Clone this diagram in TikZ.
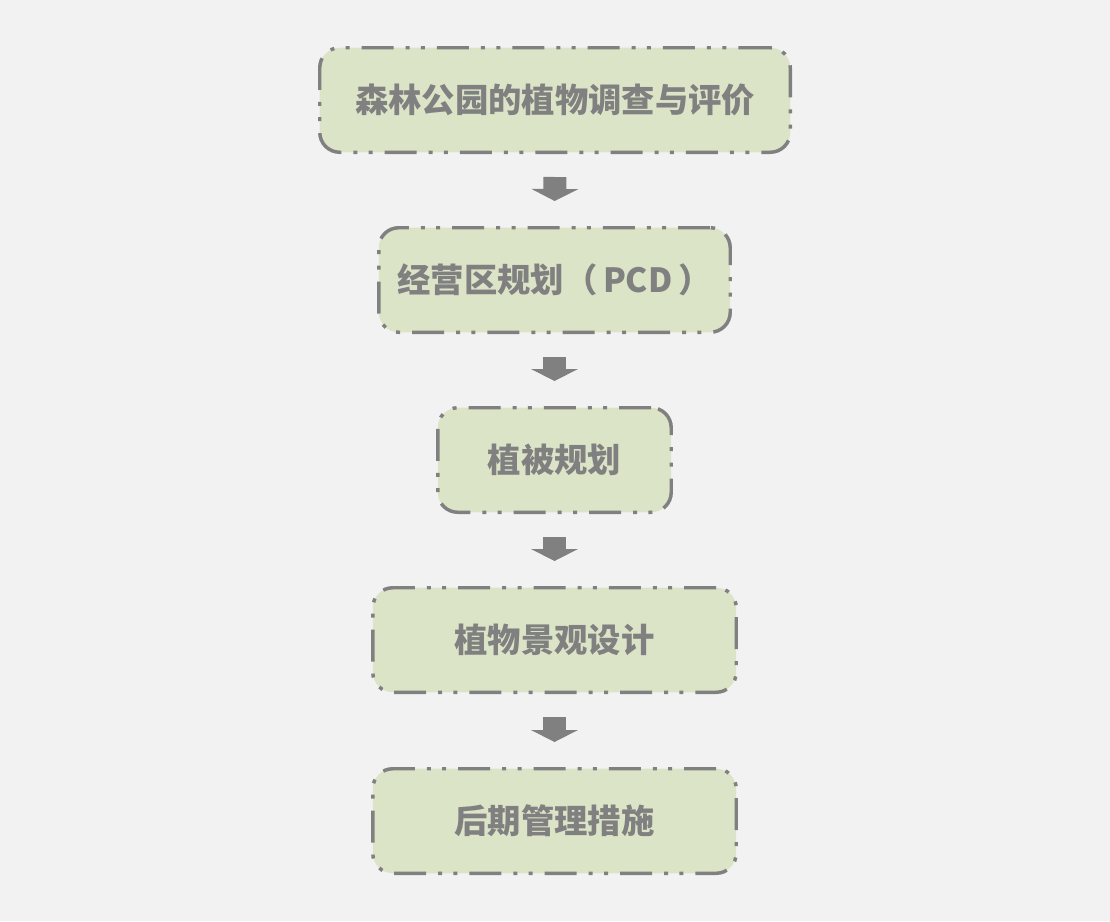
\documentclass[tikz,border=0pt]{standalone}
\usepackage{xcolor}
\usepackage{fontspec}
\usepackage{tikz}
\usetikzlibrary{arrows.meta}
\newfontfamily\cjk{Noto Sans CJK SC}
\definecolor{bgGray}{RGB}{242, 242, 242}
\definecolor{boxGreen}{RGB}{220, 228, 199}
\definecolor{lineGray}{RGB}{128, 128, 128}

\tikzset{
  stagebox/.style={draw=lineGray, fill=boxGreen, line width=2.6pt, rounded corners=15pt,
    dash pattern=on 24pt off 9pt on 3pt off 8.5pt on 3pt off 9pt,
    minimum height=78.4pt, inner sep=0pt, text=lineGray,
    font=\cjk\bfseries\fontsize{25}{30}\selectfont},
  flowarrow/.style={draw=lineGray, line width=17.25pt, shorten <=17.25pt, shorten >=18.75pt,
    -{Triangle[width=35.25pt, length=9pt, line width=0pt, fill=lineGray]}}
}

\begin{document}
\begin{tikzpicture}[x=0.75pt,y=0.75pt,yscale=-1,xscale=1]
%set diagram left start at 0, and has height of 921
\fill[bgGray] (0,0) rectangle (1110,921);
\useasboundingbox (0,0) rectangle (1110,921);

%Rounded Rect [survey]
\node [stagebox, minimum width=352.9pt] (survey) at (555,100) {森林公园的植物调查与评价};
%Rounded Rect [zoning]
\node [stagebox, minimum width=263.6pt] (zoning) at (554.5,280) {经营区规划（\,PCD\,）};
%Rounded Rect [vegplan]
\node [stagebox, minimum width=175.1pt] (vegplan) at (554.5,460) {植被规划};
%Rounded Rect [landscape]
\node [stagebox, minimum width=272.6pt] (landscape) at (554.5,640) {植物景观设计};
%Rounded Rect [upkeep]
\node [stagebox, minimum width=272.6pt] (upkeep) at (554.5,821) {后期管理措施};

%Block Arrows
\draw [flowarrow] (survey.south) -- (zoning.north);
\draw [flowarrow] (zoning.south) -- (vegplan.north);
\draw [flowarrow] (vegplan.south) -- (landscape.north);
\draw [flowarrow] (landscape.south) -- (upkeep.north);

\end{tikzpicture}
\end{document}
